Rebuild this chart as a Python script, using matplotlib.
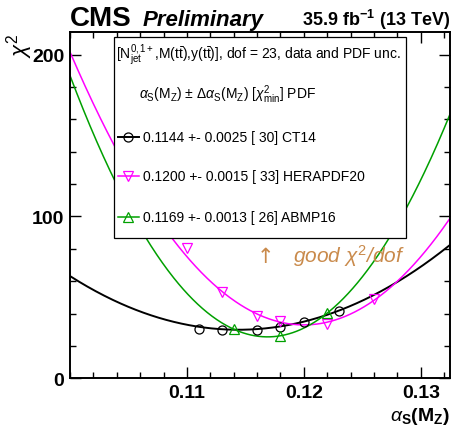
import numpy as np
import matplotlib
matplotlib.use('Agg')
import matplotlib.pyplot as plt
from matplotlib.patches import Rectangle
from matplotlib.ticker import MultipleLocator

plt.rcParams['font.family'] = ['Liberation Sans', 'DejaVu Sans']
plt.rcParams['mathtext.fontset'] = 'custom'
plt.rcParams['mathtext.rm'] = 'Liberation Sans'
plt.rcParams['mathtext.it'] = 'Liberation Sans:italic'
plt.rcParams['mathtext.bf'] = 'Liberation Sans:bold'
plt.rcParams['mathtext.sf'] = 'Liberation Sans'

# ---------------- data ----------------
pdf_names = ['CT14', 'HERAPDF20', 'ABMP16']
fit_alphas = [0.1144, 0.1200, 0.1169]
fit_errors = [0.0025, 0.00154, 0.00133]
fit_chi2min = [30.0, 33.0, 25.6]

ct14_x = [0.111, 0.113, 0.116, 0.118, 0.120, 0.123]
ct14_chi2 = [30.5, 29.9, 30.1, 31.6, 34.7, 41.5]
hera_x = [0.110, 0.113, 0.116, 0.118, 0.122, 0.126]
hera_chi2 = [80.5, 53.3, 38.4, 35.3, 33.6, 49.1]
abmp_x = [0.114, 0.118, 0.122]
abmp_chi2 = [30.3, 26.4, 40.6]

xticks = [0.11, 0.12, 0.13]
xtick_labels = ['0.11', '0.12', '0.13']
yticks = [0, 100, 200]
ytick_labels = ['0', '100', '200']

colors = ['black', '#ff00ff', '#00a000']
markers = ['o', 'v', '^']
points = [(ct14_x, ct14_chi2), (hera_x, hera_chi2), (abmp_x, abmp_chi2)]
lws = [1.4, 1.1, 1.1]

# ---------------- figure ----------------
W, H = 453, 431
fig = plt.figure(figsize=(W / 100, H / 100), dpi=100)
ax = fig.add_axes([70 / W, 51.7 / H, 380 / W, 346.3 / H])

xlo, xhi = 0.1, 0.1325
ax.set_xlim(xlo, xhi)
ax.set_ylim(0, 214)

xx = np.linspace(xlo, xhi, 400)
for a, e, c, col, lw in zip(fit_alphas, fit_errors, fit_chi2min, colors, lws):
    ax.plot(xx, c + ((xx - a) / e) ** 2, color=col, lw=lw, zorder=2)
for (px, py), col, m in zip(points, colors, markers):
    ax.plot(px, py, ls='none', marker=m, ms=6.5, mfc='none', mec=col, mew=0.9, zorder=3)

ax.set_xticks(xticks)
ax.set_xticklabels(xtick_labels)
ax.set_yticks(yticks)
ax.set_yticklabels(ytick_labels)
ax.xaxis.set_minor_locator(MultipleLocator(0.002))
ax.yaxis.set_minor_locator(MultipleLocator(20))
ax.tick_params(which='both', direction='in', top=True, right=True, width=1.0)
ax.tick_params(which='major', length=8, labelsize=14, pad=4)
ax.tick_params(which='minor', length=4)
for lab in ax.get_xticklabels() + ax.get_yticklabels():
    lab.set_fontweight('bold')
for sp in ax.spines.values():
    sp.set_linewidth(1.4)

# ---------------- legend box ----------------
def fx(px):
    return (px - 70) / 380

def fy(py):
    return 1 - (py - 33) / 346.3

box = Rectangle((fx(114), fy(239.3)), fx(405.7) - fx(114), fy(38.3) - fy(239.3),
                transform=ax.transAxes, facecolor='white', edgecolor='black', lw=0.9, zorder=5)
ax.add_patch(box)
ax.text(fx(116), fy(55), r'[N$_{\rm jet}^{0,1+}$,M(t$\bar{\rm t}$),y(t$\bar{\rm t}$)], dof = 23, data and PDF unc.',
        transform=ax.transAxes, fontsize=10, ha='left', va='center', zorder=6)
ax.text(fx(139), fy(95), r'$\alpha_{\rm S}$(M$_{\rm Z}$) $\pm$ $\Delta\alpha_{\rm S}$(M$_{\rm Z}$) [$\chi^{2}_{\rm min}$] PDF',
        transform=ax.transAxes, fontsize=10, ha='left', va='center', zorder=6)
rows = [138.3, 176.7, 218.3]
for a, e, c, name, col, m, lw, ry in zip(fit_alphas, fit_errors, fit_chi2min, pdf_names, colors, markers, lws, rows):
    ax.plot([fx(118), fx(139)], [fy(ry), fy(ry)], color=col, lw=lw, transform=ax.transAxes, zorder=6)
    ax.plot([fx(128.3)], [fy(ry)], marker=m, ms=6.5, mfc='none', mec=col, mew=0.9,
            transform=ax.transAxes, zorder=7)
    ax.text(fx(143.3), fy(ry), f'{a:.4f} +- {e:.4f} [{c:3.0f}] {name}',
            transform=ax.transAxes, fontsize=10, ha='left', va='center', zorder=6)

# annotation
tan = '#c98a4b'
ax.text(fx(265), fy(263), '\u2191', transform=ax.transAxes, fontsize=15, color=tan,
        ha='center', va='baseline', family=['DejaVu Sans'], zorder=4)
ax.text(fx(292.7), fy(263), r'good $\chi^2$/dof', transform=ax.transAxes, fontsize=15,
        color=tan, style='italic', ha='left', va='baseline', zorder=4)

# ---------------- titles ----------------
fig.text(70 / W, 1 - 26 / H, 'CMS', fontsize=20, fontweight='bold', ha='left', va='baseline')
fig.text(143 / W, 1 - 26 / H, 'Preliminary', fontsize=16, fontweight='bold', style='italic',
         ha='left', va='baseline')
fig.text(450 / W, 1 - 26 / H, r'35.9 fb$^{\mathbf{-1}}$ (13 TeV)', fontsize=13, fontweight='bold',
         ha='right', va='baseline')
fig.text(20 / W, 1 - 33 / H, r'$\chi^2$', fontsize=16, rotation=90, ha='center', va='top')
fig.text(450 / W, 4 / H, r'$\alpha_{\mathbf{S}}$(M$_{\mathbf{Z}}$)', fontsize=14, fontweight='bold',
         ha='right', va='bottom')

fig.savefig('out.png', dpi=100)
